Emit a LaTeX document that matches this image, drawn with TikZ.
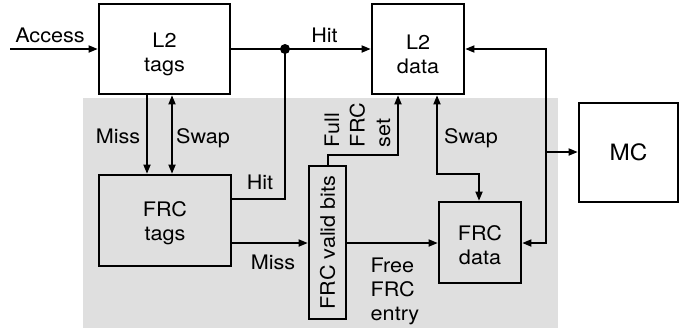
\documentclass[tikz,border=0pt]{standalone}
\usepackage{fontspec}
\setmainfont[FakeStretch=1.08]{TeX Gyre Heros}
\usetikzlibrary{arrows.meta}
\begin{document}
\begin{tikzpicture}[x=0.5pt,y=-0.5pt,
  txt/.style={font=\fontsize{10}{12}\selectfont},
  box/.style={draw,line width=1.4pt,inner sep=0pt},
  lbl/.style={inner sep=0pt,txt},
  wire/.style={line width=0.6pt},
  tip/.tip={Triangle[length=4.5pt,width=3.6pt]},
  arr/.style={wire,-tip},
  arrtwo/.style={wire,tip-tip}
]
\useasboundingbox (0,0) rectangle (688,333);
\fill[gray!25] (83,98) rectangle (558,328);

% boxes
\node[box,minimum width=65.5pt,minimum height=45pt] (l2tags) at (164.5,49) {};
\node[box,minimum width=46pt,minimum height=45pt] (l2data) at (418,49) {};
\node[box,minimum width=66pt,minimum height=45.5pt] (frctags) at (165,220.5) {};
\node[box,minimum width=18.5pt,minimum height=76.5pt,txt] (valid) at (327.5,242.5) {\rotatebox{90}{FRC valid bits}};
\node[box,minimum width=41pt,minimum height=40.5pt] (frcdata) at (480,242.5) {};
\node[box,minimum width=49.5pt,minimum height=49.5pt,font=\fontsize{11.25}{13}\selectfont] (mc) at (628.5,152.5) {MC};

% box texts
\node[lbl,align=center] (tl2tags) at ([yshift=-2.5pt]l2tags.center) {L2\\tags};
\node[lbl,align=center] (tl2data) at ([yshift=-2.5pt]l2data.center) {L2\\data};
\node[lbl,align=center] (tfrctags) at ([yshift=-1.2pt]frctags.center) {FRC\\tags};
\node[lbl,align=center] (tfrcdata) at ([yshift=-1.2pt]frcdata.center) {FRC\\data};

% helper coordinates
\coordinate (acc) at (10,49);
\coordinate (dot) at (285,49);
\coordinate (hitc) at (285,199);
\coordinate (xmiss) at (147,0);
\coordinate (xswap) at (172,0);
\coordinate (ymiss) at (0,243);
\coordinate (full1) at (328,155);
\coordinate (full2) at (398,155);
\coordinate (sw1) at (437,174);
\coordinate (sw2) at (479,174);
\coordinate (bus1) at (546,49);
\coordinate (bus2) at (546,243);
\coordinate (busmc) at (546,152);

% connectors
\draw[arr] (acc) -- (l2tags.west);
\draw[wire] (l2tags.east) -- (dot);
\draw[arr] (dot) -- (l2data.west);
\draw[line width=1.3pt] (dot) -- (hitc) -- (hitc -| frctags.east);
\fill (dot) circle (2.5pt);
\draw[arr] (l2tags.south -| xmiss) -- (frctags.north -| xmiss);
\draw[arrtwo] (l2tags.south -| xswap) -- (frctags.north -| xswap);
\draw[arr] (frctags.east |- ymiss) -- (valid.west |- ymiss);
\draw[arr] (valid.north -| full1) -- (full1) -- (full2) -- (l2data.south -| full2);
\draw[arrtwo] (l2data.south -| sw1) -- (sw1) -- (sw2) -- (frcdata.north -| sw2);
\draw[arr] (valid.east |- ymiss) -- (frcdata.west |- ymiss);
\draw[arrtwo] (l2data.east) -- (bus1) -- (bus2) -- (frcdata.east |- bus2);
\draw[arr] (busmc) -- (mc.west |- busmc);

% labels
\node[lbl,anchor=base] (tAccess) at (50,42) {Access};
\node[lbl,anchor=base] (tHit1) at (324.5,42) {Hit};
\node[lbl,anchor=base] (tMiss1) at (118,143) {Miss};
\node[lbl,anchor=base] (tSwap1) at (203,143) {Swap};
\node[lbl,anchor=base] (tHit2) at (260,189) {Hit};
\node[lbl,anchor=base] (tMiss2) at (273,269) {Miss};
\node[lbl,anchor=base] (tSwap2) at (471,143) {Swap};
\node[lbl,align=left] (tFree) at (395,291) {Free\\FRC\\entry};
\node[lbl,align=left,rotate=90,font=\fontsize{10}{12.75}\selectfont] (tFull) at (357.5,125) {Full\\FRC\\set};
\end{tikzpicture}
\end{document}
